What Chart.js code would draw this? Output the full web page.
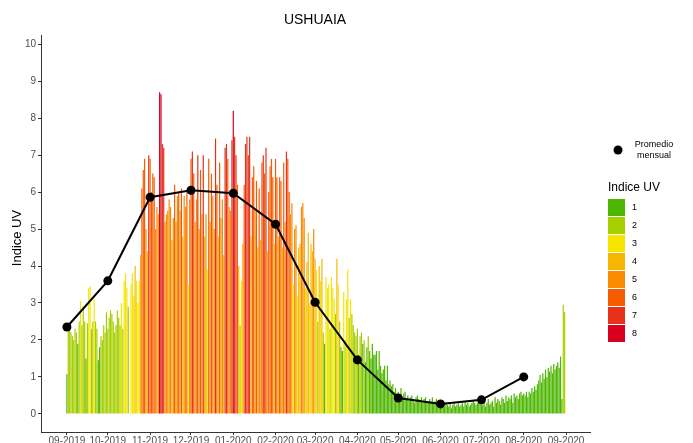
<!DOCTYPE html>
<html><head><meta charset="utf-8">
<script src="https://cdn.jsdelivr.net/npm/chart.js@4"></script>
<style>html,body{margin:0;padding:0;background:#fff}canvas{display:block}</style>
</head><body>
<canvas id="c" width="693" height="443" style="width:693px;height:443px"></canvas>
<script>
// Tick labels (month starts) and their day offsets from 2019-09-01
const tickLabels = ['09-2019','10-2019','11-2019','12-2019','01-2020','02-2020','03-2020','04-2020','05-2020','06-2020','07-2020','08-2020','09-2020'];
const monthStartDays = [0,30,61,91,122,153,182,213,243,274,304,335,366];

// Daily UV index values by month
const sep2019 = [1.07,2.35,2.3,2.2,2.1,2.0,2.3,2.2,1.9,2.5,3.05,2.4,2.9,2.5,1.5,2.45,3.4,3.45,2.3,2.5,3.1,2.5,2.3,1.45,1.8,2.1,2.0,2.4,2.2,2.75];
const oct2019 = [2.3,2.6,2.8,2.7,2.5,2.2,2.4,2.8,2.6,2.4,3.0,2.3,3.6,3.8,3.4,2.9,null,3.5,3.8,3.2,4.0,3.6,3.0,3.6,4.3,6.1,6.6,6.9,5.0,4.4,7.0];
const nov2019 = [6.9,6.0,6.5,6.4,5.0,5.6,5.4,8.7,8.65,7.3,7.2,5.2,5.4,5.5,5.8,5.6,4.7,5.3,6.2,5.2,5.9,6.0,5.5,6.1,4.8,5.9,5.6,6.0,3.5,5.8];
const dec2019 = [6.9,7.1,6.5,5.2,5.8,7.0,5.0,6.6,5.4,7.0,4.8,5.4,3.9,6.9,5.2,6.5,5.9,5.0,7.45,6.2,4.8,6.8,5.3,5.8,4.3,7.2,7.3,6.9,5.6,5.5,7.4];
const jan2020 = [8.2,7.5,7.0,6.2,4.0,2.4,3.6,4.6,6.2,7.3,7.5,7.0,7.5,4.8,6.4,6.7,5.5,6.3,4.5,6.1,4.7,6.8,7.0,6.5,7.2,4.4,6.0,6.7,6.9,6.4,4.6];
const feb2020 = [6.9,6.4,4.8,6.4,6.3,4.5,6.8,5.2,7.1,6.9,6.0,5.4,5.7,3.5,5.0,5.1,3.2,4.5,4.6,5.6,5.7,5.3,3.4,4.1,4.9,3.0,4.6,4.4,5.0];
const mar2020 = [4.2,3.9,2.5,4.0,3.6,4.2,2.2,1.9,3.7,3.4,3.5,2.3,3.7,3.4,3.1,2.7,4.2,3.5,2.5,1.8,1.7,3.3,2.0,3.1,3.9,2.6,3.1,2.7,2.4,2.2,2.1];
const apr2020 = [2.3,1.6,2.1,2.2,1.9,2.0,1.4,1.8,2.1,1.7,1.5,1.9,1.6,1.6,1.7,1.2,1.7,1.3,1.1,1.2,1.3,0.9,1.3,0.8,0.9,0.75,0.8,0.6,0.7,0.55];
const may2020 = [0.6,0.5,0.7,0.45,0.55,0.6,0.4,0.5,0.35,0.45,0.5,0.4,0.3,0.45,0.5,0.4,0.35,0.45,0.3,0.4,0.45,0.35,0.3,0.4,0.35,0.45,0.3,0.35,0.4,0.3,0.35];
const jun2020 = [0.3,0.25,0.35,0.2,0.3,0.25,0.2,0.3,0.15,0.25,0.3,0.2,0.25,0.3,0.2,0.25,0.3,0.2,0.35,0.25,0.3,0.2,0.25,0.3,0.35,0.3,0.25,0.3,0.35,0.3];
const jul2020 = [0.3,0.25,0.35,0.2,0.3,0.4,0.25,0.3,0.35,0.2,0.45,0.3,0.4,0.35,0.25,0.45,0.4,0.3,0.5,0.35,0.45,0.4,0.5,0.3,0.55,0.45,0.5,0.4,0.55,0.6,0.5];
const aug2020 = [0.55,0.5,0.6,0.45,0.6,0.55,0.7,0.6,0.75,0.65,0.8,0.9,1.05,0.85,1.1,0.95,1.2,1.0,1.25,1.15,1.3,1.1,1.35,1.2,1.3,1.4,1.25,1.55,0.4,2.95,2.75];

// Monthly mean ("Promedio mensual"), plotted at each month start
const monthlyMean = [2.35,3.6,5.86,6.05,5.97,5.13,3.02,1.46,0.43,0.27,0.38,1.0];

// UV category colours and labels
const uvCategories = ['1','2','3','4','5','6','7','8'];
const uvColors = ['#4DB600','#A6CF00','#F6E500','#F8B500','#F88B00','#F75B00','#E6321A','#D8001E'];

const months = [sep2019,oct2019,nov2019,dec2019,jan2020,feb2020,mar2020,apr2020,may2020,jun2020,jul2020,aug2020];
const barPoints = [];
months.forEach((m, mi) => {
  m.forEach((v, d) => barPoints.push({x: monthStartDays[mi] + d, y: v}));
});
const barColors = barPoints.map(p => {
  if (p.y === null) return 'rgba(0,0,0,0)';
  const c = Math.min(8, Math.max(1, Math.floor(p.y)));
  return uvColors[c - 1];
});
const meanPoints = monthlyMean.map((v, i) => ({x: monthStartDays[i], y: v}));

const FONT = '"Liberation Sans", Arial, sans-serif';

const decor = {
  id: 'decor',
  afterDraw(chart) {
    const ctx = chart.ctx;
    ctx.save();
    ctx.fillStyle = '#000';
    ctx.font = '14px ' + FONT;
    ctx.textAlign = 'center';
    ctx.textBaseline = 'middle';
    ctx.fillText('USHUAIA', 315, 20);

    ctx.save();
    ctx.translate(17, 238);
    ctx.rotate(-Math.PI / 2);
    ctx.font = '13px ' + FONT;
    ctx.fillText('Indice UV', 0, 0);
    ctx.restore();

    // legend: monthly mean
    ctx.beginPath();
    ctx.arc(618, 150, 4.5, 0, Math.PI * 2);
    ctx.fill();
    ctx.font = '9px ' + FONT;
    ctx.textAlign = 'center';
    ctx.fillText('Promedio', 654, 145);
    ctx.fillText('mensual', 654, 156);

    // legend: UV categories
    ctx.textAlign = 'left';
    ctx.font = '12px ' + FONT;
    ctx.fillText('Indice UV', 608, 188);
    ctx.font = '9px ' + FONT;
    uvCategories.forEach((lab, i) => {
      ctx.fillStyle = uvColors[i];
      ctx.fillRect(608, 199 + 18 * i, 17, 17);
      ctx.fillStyle = '#000';
      ctx.fillText(lab, 632, 208 + 18 * i);
    });
    ctx.restore();
  }
};

new Chart(document.getElementById('c'), {
  data: {
    datasets: [
      {type: 'line', data: meanPoints, borderColor: '#000', borderWidth: 2, pointRadius: 4.5,
       pointBackgroundColor: '#000', pointBorderWidth: 0, order: 0, tension: 0},
      {type: 'bar', data: barPoints, backgroundColor: barColors, barPercentage: 1,
       categoryPercentage: 0.88, order: 1}
    ]
  },
  options: {
    responsive: false,
    animation: false,
    layout: {padding: {top: 35, right: 103, left: 0, bottom: 0}},
    plugins: {legend: {display: false}, tooltip: {enabled: false}, title: {display: false}},
    scales: {
      x: {
        type: 'linear', min: -19, max: 383.6, offset: false,
        afterBuildTicks: s => { s.ticks = monthStartDays.map(v => ({value: v})); },
        afterFit: s => { s.height = 11; },
        ticks: {
          autoSkip: false, maxRotation: 0, padding: 0, color: '#4d4d4d',
          font: {family: FONT, size: 10},
          callback: (v, i) => tickLabels[i]
        },
        grid: {display: true, offset: false, drawOnChartArea: false, drawTicks: true, tickLength: 3, color: '#333'},
        border: {display: true, color: '#333', width: 1}
      },
      y: {
        type: 'linear', min: -0.49, max: 10.25,
        afterBuildTicks: s => { s.ticks = [0,1,2,3,4,5,6,7,8,9,10].map(v => ({value: v})); },
        afterFit: s => { s.width = 41; },
        ticks: {padding: 2, color: '#4d4d4d', font: {family: FONT, size: 10}},
        grid: {display: true, drawOnChartArea: false, drawTicks: true, tickLength: 3, color: '#333'},
        border: {display: true, color: '#333', width: 1}
      }
    }
  },
  plugins: [decor]
});
</script>
</body></html>
